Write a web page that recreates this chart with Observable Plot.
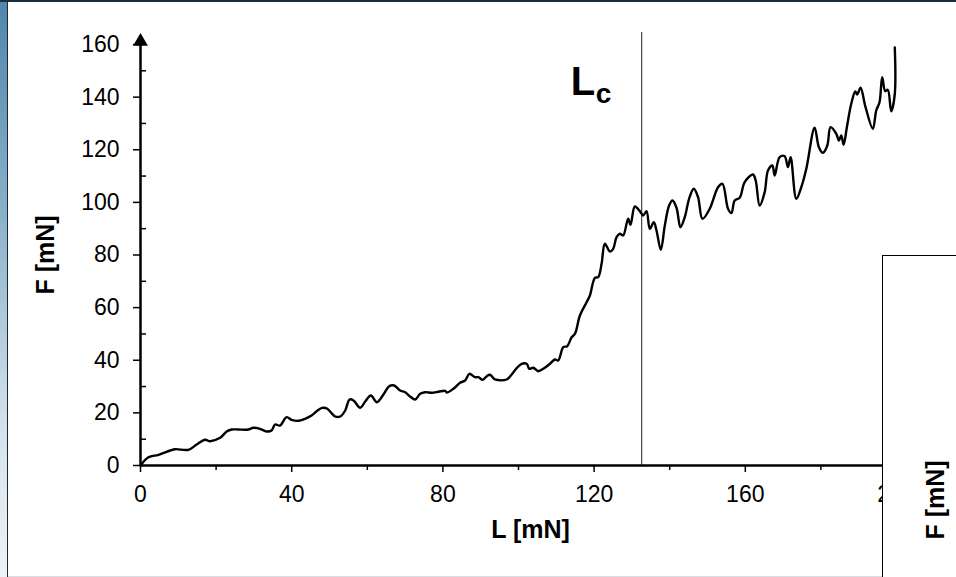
<!DOCTYPE html>
<html>
<head>
<meta charset="utf-8">
<script src="https://cdn.jsdelivr.net/npm/d3@7"></script>
<script src="https://cdn.jsdelivr.net/npm/@observablehq/plot@0.6"></script>
<style>
  body { margin: 0; background: #fff; }
  #wrap { position: relative; width: 956px; height: 577px; overflow: hidden; font-family: Arial, "Liberation Sans", sans-serif; }
  #wrap svg { position: absolute; left: 0; top: 0; }
  #edge { position: absolute; left: 0; top: 0; width: 7px; height: 577px;
          background: linear-gradient(to bottom, #4f86aa 0%, #86aec8 35%, #d6e3ec 75%, #eef2f6 100%);
          border-right: 1.5px solid #1d2833; }
  #topline { position: absolute; left: 0; top: 0; width: 956px; height: 2px; background: #1e2d3a; }
  #bottomline { position: absolute; left: 8px; top: 576px; width: 948px; height: 1px; background: #d8dde2; }
  #inset { position: absolute; left: 882px; top: 255px; width: 90px; height: 340px; background: #fff;
           border-left: 1.5px solid #000; border-top: 1.5px solid #000; }
  #inset span { position: absolute; left: 52px; top: 244px; transform: translate(-50%, -50%) rotate(-90deg);
                font-weight: bold; font-size: 25px; white-space: nowrap; color: #000; }
</style>
</head>
<body>
<div id="wrap"></div>
<script>
// Scratch test: tangential force F versus normal load L, critical load marked L_c
const loadL = [0, 2.11, 4.76, 7.85, 9.17, 12.68, 14.87, 17.09, 18.41, 21.06, 22.80, 24.12, 25.89, 28.53, 29.85,
  31.62, 33.37, 34.69, 35.59, 36.91, 38.65, 39.97, 41.74, 43.51, 45.26, 46.5, 48.0, 49.33, 51.52, 52.84,
  54.16, 55.30, 56.35, 58.12, 59.45, 60.95, 62.54, 64.28, 65.79, 67.11, 68.69, 70.01, 71.33, 72.66, 73.98,
  75.30, 77.07, 78.81, 80.58, 81.03, 82.77, 84.54, 85.86, 87.00, 88.51, 89.38, 90.54, 91.60, 92.47, 93.79,
  96.88, 98.20, 99.52, 100.85, 102.17, 102.85, 103.91, 105.23, 106.55, 108.32, 109.64, 110.52, 111.84,
  112.89, 114.06, 114.93, 116.25, 118.02, 118.89, 120.21, 121.08, 121.98, 122.85, 124.17, 125.05, 125.94,
  126.82, 127.69, 129.01, 129.64, 130.78, 132.10, 132.97, 133.87, 134.74, 135.80, 136.51, 137.65, 138.71,
  139.84, 140.74, 141.80, 142.85, 143.99, 145.13, 146.37, 147.50, 148.67, 150.59, 152.79, 153.95, 155.43,
  156.33, 157.20, 158.52, 159.84, 162.03, 162.75, 163.80, 165.13, 166.00, 167.16, 167.77, 169.09, 170.41,
  171.28, 171.99, 173.50, 174.82, 176.14, 178.34, 179.47, 180.53, 181.69, 182.56, 184.07, 184.76, 185.39,
  186.00, 186.87, 188.03, 189.09, 189.62, 190.49, 191.81, 193.74, 194.64, 195.51, 196.22, 197.01, 197.70,
  198.60, 199.55, 199.55];
const forceF = [0, 3.15, 4.07, 5.70, 6.20, 5.97, 7.98, 9.77, 9.24, 10.53, 12.92, 13.68, 13.68, 13.68, 14.33,
  13.95, 12.92, 13.30, 15.58, 15.20, 18.36, 17.37, 16.99, 17.75, 19.00, 20.5, 21.9, 21.66, 18.62, 18.62,
  20.90, 25.09, 24.71, 21.93, 24.33, 26.61, 24.06, 26.99, 30.14, 30.41, 28.51, 27.86, 26.23, 25.09, 27.25,
  27.86, 27.63, 28.01, 28.39, 27.75, 29.15, 31.43, 32.31, 34.85, 33.56, 33.56, 32.57, 33.94, 34.47, 32.69,
  32.69, 34.59, 36.98, 38.65, 38.65, 36.75, 37.13, 35.84, 36.75, 38.65, 40.29, 39.91, 44.96,
  45.34, 48.76, 50.06, 57.01, 62.07, 64.61, 71.34, 71.57, 76.66, 84.26, 81.34, 82.36, 86.77,
  88.07, 87.42, 93.77, 91.49, 98.44, 96.66, 95.02, 96.66, 89.97, 92.47, 89.32, 81.98, 91.22,
  98.82, 100.72, 97.95, 90.57, 94.37, 101.37, 105.17, 101.98, 93.77, 97.57, 105.78, 107.07, 97.57,
  95.90, 100.72, 101.75, 107.68, 110.60, 108.32, 98.82, 103.88, 112.12, 114.03, 110.22, 117.18, 117.56,
  113.38, 117.18, 101.37, 105.78, 112.77, 128.35, 120.98, 118.85, 121.63, 128.58, 126.07, 123.53, 125.43,
  121.89, 128.58, 137.48, 142.15, 141.01, 143.56, 136.19, 127.97, 134.93, 138.08, 147.59, 142.27, 142.80,
  134.66, 141.28, 158.88];

const criticalLoad = 132.6;          // L_c
const yMajorTicks = [0, 20, 40, 60, 80, 100, 120, 140, 160];
const yMinorTicks = [10, 30, 50, 70, 90, 110, 130, 150];
const xMajorTicks = [0, 40, 80, 120, 160, 200];
const xMinorTicks = [20, 60, 100, 140, 180];
const xTitle = "L [mN]";
const yTitle = "F [mN]";

const curve = loadL.map((l, i) => ({L: l, F: forceF[i]}));

const chart = Plot.plot({
  width: 956,
  height: 577,
  marginLeft: 140,
  marginRight: 60,
  marginTop: 44,
  marginBottom: 112,
  x: {domain: [0, 200]},
  y: {domain: [0, 160]},
  style: {fontFamily: "Arial, 'Liberation Sans', sans-serif", fontSize: "23px", color: "#000", background: "#fff"},
  marks: [
    Plot.axisY(yMajorTicks, {tickSize: 7, tickPadding: 14, label: null, strokeWidth: 1.5, fontSize: 23}),
    Plot.axisY(yMinorTicks, {tickSize: 6, dx: 6, text: null, label: null, strokeWidth: 1.5}),
    Plot.axisX(xMajorTicks, {tickSize: 7, tickPadding: 13, label: null, strokeWidth: 1.5, fontSize: 23}),
    Plot.axisX(xMinorTicks, {tickSize: 5, text: null, label: null, strokeWidth: 1.5}),
    Plot.ruleX([criticalLoad], {y1: 0, y2: 164.6, stroke: "#222", strokeWidth: 1}),
    Plot.line(curve, {x: "L", y: "F", stroke: "#000", strokeWidth: 2.4, curve: "catmull-rom"}),
    Plot.ruleY([0], {stroke: "#000", strokeWidth: 2.5}),
    Plot.ruleX([0], {stroke: "#000", strokeWidth: 2.5}),
    Plot.dot([160], {x: 0, y: d => d, symbol: "triangle", r: 5.5, fill: "#000", stroke: null, dy: -3}),
    Plot.text(["L"], {x: criticalLoad, frameAnchor: "top", lineAnchor: "top", text: d => d, textAnchor: "start",
      dx: -71, dy: 22, fontSize: 40, fontWeight: "bold"}),
    Plot.text(["c"], {x: criticalLoad, frameAnchor: "top", lineAnchor: "top", text: d => d, textAnchor: "start",
      dx: -46, dy: 39, fontSize: 28, fontWeight: "bold"}),
    Plot.text([yTitle], {frameAnchor: "left", textAnchor: "middle", lineAnchor: "middle", text: d => d,
      rotate: -90, dx: -95, fontSize: 25, fontWeight: "bold"}),
    Plot.text([xTitle], {frameAnchor: "bottom", textAnchor: "middle", lineAnchor: "middle", text: d => d,
      dx: 12, dy: 64, fontSize: 25, fontWeight: "bold"})
  ]
});

const wrap = document.getElementById("wrap");
wrap.appendChild(chart);
wrap.insertAdjacentHTML("beforeend",
  '<div id="edge"></div><div id="topline"></div><div id="bottomline"></div>' +
  '<div id="inset"><span>' + yTitle + '</span></div>');
</script>
</body>
</html>
